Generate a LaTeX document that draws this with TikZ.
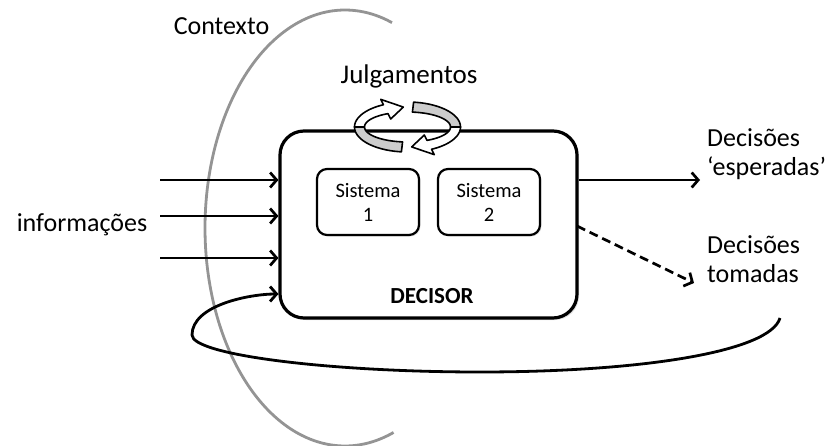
\documentclass[tikz,border=0pt]{standalone}
\usepackage{fontspec}
\setmainfont{Carlito}
\usetikzlibrary{arrows.meta,shadows}

\begin{document}
\begin{tikzpicture}[x=1pt,y=-1pt,
  lbl/.style={inner sep=0pt, font=\fontsize{26}{29}\selectfont},
  arr/.style={line width=2.7pt, -{Straight Barb[length=6.5pt,width=15pt]}},
  mainbox/.style={draw, line width=3.2pt, rounded corners=24pt, fill=white,
    drop shadow={shadow xshift=2pt, shadow yshift=-2pt, opacity=0.25}},
  sysbox/.style={draw, line width=2.2pt, rounded corners=10pt, fill=white,
    minimum width=102pt, minimum height=66pt, inner sep=0pt, align=center,
    font=\fontsize{20.5}{24}\selectfont,
    drop shadow={shadow xshift=1.5pt, shadow yshift=-1.5pt, opacity=0.2}},
  ctxline/.style={draw=black!42, line width=2.8pt},
  bandgray/.style={fill=black!20, draw=black, line width=1.6pt, line join=round},
  bandwhite/.style={fill=white, draw=black, line width=1.6pt, line join=round}
]
\useasboundingbox (0,0) rectangle (834,446);

% context boundary (left part of an ellipse)
\draw[ctxline] plot[domain=69.7:289.6, samples=90, smooth]
  ({345+140*cos(\x)},{228+218*sin(\x)});
\node[lbl, anchor=base] (ctx) at (221.5,35) {Contexto};

% decision maker
\node[mainbox, minimum width=297pt, minimum height=187pt] (dec) at (428.5,224.5) {};
\node[sysbox] (s1) at (368,202) {Sistema\\1};
\node[sysbox] (s2) at (489,202) {Sistema\\2};
\node[inner sep=0pt, font=\bfseries\fontsize{23}{28}\selectfont, anchor=base] (decname) at (432,303) {DECISOR};

% judgement cycle
\node[lbl, anchor=base, font=\fontsize{27}{30}\selectfont] (julg) at (409,84) {Julgamentos};
% left arrow: tail at bottom, head at top
\path[bandgray] plot[domain=96.6:180, samples=24] ({407.5+53*cos(\x)},{127+25*sin(\x)})
  -- plot[domain=180:96.6, samples=24] ({407.5+43*cos(\x)},{127+15*sin(\x)}) -- cycle;
\path[bandwhite] plot[domain=180:243, samples=24] ({407.5+53*cos(\x)},{127+25*sin(\x)})
  -- ({407.5+59*cos(243)},{127+31*sin(243)})
  -- ({407.5+48*cos(265)},{127+20*sin(265)})
  -- ({407.5+37*cos(243)},{127+9*sin(243)})
  -- plot[domain=243:180, samples=24] ({407.5+43*cos(\x)},{127+15*sin(\x)}) -- cycle;
% right arrow: tail at top, head at bottom
\path[bandgray] plot[domain=276.6:360, samples=24] ({407.5+53*cos(\x)},{127+25*sin(\x)})
  -- plot[domain=360:276.6, samples=24] ({407.5+43*cos(\x)},{127+15*sin(\x)}) -- cycle;
\path[bandwhite] plot[domain=360:423, samples=24] ({407.5+53*cos(\x)},{127+25*sin(\x)})
  -- ({407.5+59*cos(423)},{127+31*sin(423)})
  -- ({407.5+48*cos(445)},{127+20*sin(445)})
  -- ({407.5+37*cos(423)},{127+9*sin(423)})
  -- plot[domain=423:360, samples=24] ({407.5+43*cos(\x)},{127+15*sin(\x)}) -- cycle;

% incoming information
\node[lbl, anchor=base] (info) at (82,232) {informações};
\coordinate (i1) at (160,180);
\coordinate (i2) at (160,216);
\coordinate (i3) at (160,258);
\draw[arr] (i1) -- (i1 -| dec.west);
\draw[arr] (i2) -- (i2 -| dec.west);
\draw[arr] (i3) -- (i3 -| dec.west);

% outcomes
\node[lbl, anchor=base west, align=left] (esp) at (707,176) {Decisões\\‘esperadas’};
\node[lbl, anchor=base west, align=left] (tom) at (707,282) {Decisões\\tomadas};
\coordinate (o1) at (700,180);
\coordinate (o2) at (694,283);
\coordinate (d0) at (577,226);
\coordinate (fb) at (780,318);
\draw[arr] (o1 -| dec.east) -- (o1);
\draw[arr, dash pattern=on 9pt off 5pt] (d0) -- (o2);

% feedback loop
\draw[arr, line width=2.8pt] (fb) .. controls (770,352) and (640,372) .. (480,372)
  .. controls (330,372) and (192,355) .. (192,335)
  .. controls (192,305) and (250,294) .. (dec.west |- 0,294);
\end{tikzpicture}
\end{document}
